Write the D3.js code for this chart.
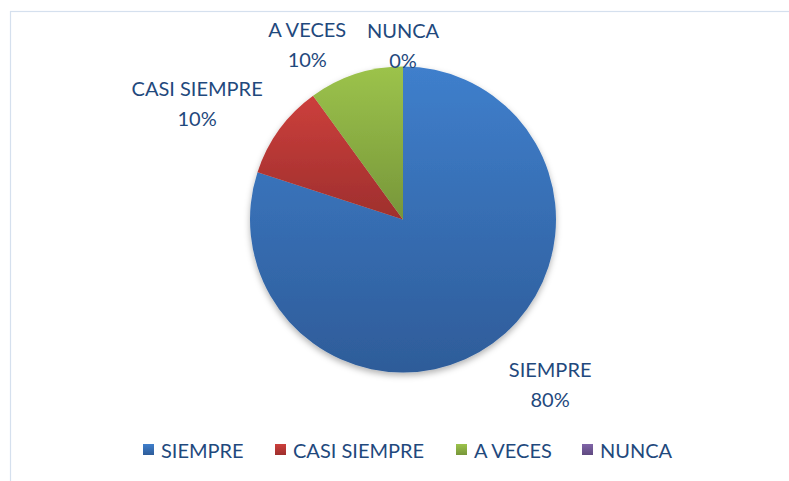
<!DOCTYPE html>
<html>
<head>
<meta charset="utf-8">
<script src="https://cdn.jsdelivr.net/npm/d3@7"></script>
<style>
  body { margin: 0; background: #fff; }
  text { font-family: Lato, "Open Sans", sans-serif; fill: #1f497d; }
</style>
</head>
<body>
<svg id="chart"></svg>
<script>
// data
var categories = ['SIEMPRE', 'CASI SIEMPRE', 'A VECES', 'NUNCA'];
var values = [80, 10, 10, 0];
var percentLabels = ['80%', '10%', '10%', '0%'];

// colours: top / bottom of each slice gradient
var colorsTop = ['#3f7fcc', '#cc3f3c', '#9cc34b', '#8064a8'];
var colorsBottom = ['#2e5c99', '#9e2f2d', '#77963a', '#5f4a80'];

// layout
var width = 789;
var height = 481;
var cx = 403;
var cy = 219.5;
var radius = 153;

var svg = d3.select('#chart')
  .attr('width', width)
  .attr('height', height);

var defs = svg.append('defs');

categories.forEach(function(c, i) {
  var g = defs.append('linearGradient')
    .attr('id', 'grad' + i)
    .attr('x1', 0).attr('y1', 0)
    .attr('x2', 0).attr('y2', 1);
  g.append('stop').attr('offset', '0%').attr('stop-color', colorsTop[i]);
  g.append('stop').attr('offset', '100%').attr('stop-color', colorsBottom[i]);
});

var shadow = defs.append('filter')
  .attr('id', 'shadow')
  .attr('x', '-20%').attr('y', '-20%')
  .attr('width', '140%').attr('height', '140%');
shadow.append('feDropShadow')
  .attr('dx', 0).attr('dy', 3)
  .attr('stdDeviation', 3)
  .attr('flood-color', '#000')
  .attr('flood-opacity', 0.3);

// chart frame
svg.append('rect')
  .attr('x', 10.5)
  .attr('y', 11.5)
  .attr('width', 800)
  .attr('height', 500)
  .style('fill', 'none')
  .style('stroke', '#d5e0ee')
  .style('stroke-width', 1.2);

var pie = d3.pie().sort(null).value(function(d) { return d; });
var arcs = pie(values);

var arc = d3.arc().innerRadius(0).outerRadius(radius);

var pieG = svg.append('g')
  .attr('transform', 'translate(' + cx + ',' + cy + ')')
  .attr('filter', 'url(#shadow)');

pieG.selectAll('path')
  .data(arcs)
  .enter()
  .append('path')
  .attr('d', arc)
  .style('fill', function(d, i) { return 'url(#grad' + i + ')'; });

// data labels (Excel best-fit style, offset from the rim)
var labelRadius = [1.44, 1.55, 1.31, 1.15];
var labelAngleShift = [-0.103, -0.109, -0.184, 0.0];

var labelG = svg.append('g')
  .attr('transform', 'translate(' + cx + ',' + cy + ')');

arcs.forEach(function(d, i) {
  var a = (d.startAngle + d.endAngle) / 2 + labelAngleShift[i];
  var r = radius * labelRadius[i];
  var x = r * Math.sin(a);
  var y = -r * Math.cos(a);
  var t = labelG.append('text')
    .attr('text-anchor', 'middle')
    .style('font-size', '20px');
  t.append('tspan').attr('x', x).attr('y', y - 6).text(categories[i]);
  t.append('tspan').attr('x', x).attr('y', y + 24).text(percentLabels[i]);
});

// legend
var legendX = [143, 275, 456, 582];
var legend = svg.append('g')
  .attr('transform', 'translate(0,444)');

categories.forEach(function(c, i) {
  legend.append('rect')
    .attr('x', legendX[i])
    .attr('y', 0)
    .attr('width', 11)
    .attr('height', 11)
    .style('fill', 'url(#grad' + i + ')');
  legend.append('text')
    .attr('x', legendX[i] + 18)
    .attr('y', 14)
    .style('font-size', '20px')
    .text(c);
});
</script>
</body>
</html>
